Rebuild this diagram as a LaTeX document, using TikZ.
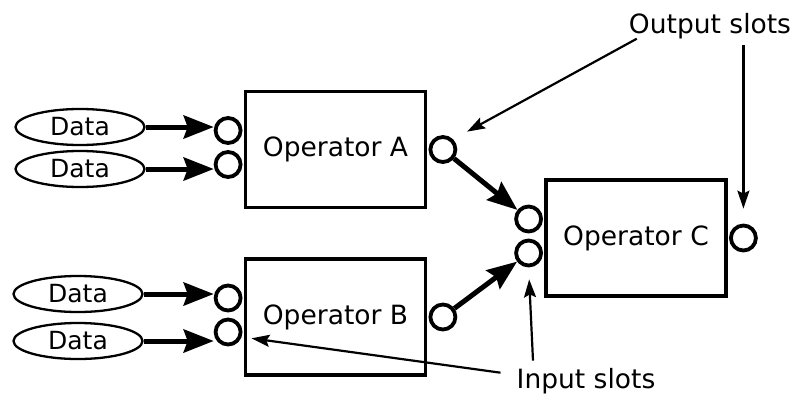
\documentclass[tikz,border=0pt]{standalone}
\usepackage{fontspec}
\setmainfont{DejaVu Sans}
\usepackage{tikz}
\usetikzlibrary{arrows.meta}
\usetikzlibrary{shapes.geometric}
\usetikzlibrary{positioning}

\begin{document}
\begin{tikzpicture}[x=1pt, y=-1pt, font=\fontsize{26.5}{30}\selectfont]
\tikzstyle{op}=[rectangle, draw, line width=3.8pt, minimum width=180pt,
                 minimum height=116pt, inner sep=0pt];
\tikzstyle{slot}=[circle, draw, line width=3.8pt, fill=white,
                   minimum size=25pt, inner sep=0pt];
\tikzstyle{data}=[ellipse, draw, line width=2.3pt, minimum width=129pt,
                   minimum height=36pt, inner sep=0pt, font=\fontsize{25}{30}\selectfont];
\tikzstyle{flow}=[line width=5pt, -{Stealth[length=30pt, width=23pt, inset=4pt]}];
\tikzstyle{hint}=[line width=2.2pt, -{Stealth[length=18pt, width=12pt, inset=3pt]}];
\useasboundingbox (0,0) rectangle (794,394);

\node[op] (opA) at (335.5,149.5) {Operator A};
\node[op] (opB) at (335.5,317) {Operator B};
\node[op] (opC) at (636,238) {Operator C};
\foreach \o in {A,B,C}
{\node[slot, xshift=-15.5pt, yshift=19pt] (in\o1) at (op\o.west) {};
 \node[slot, xshift=-15.5pt, yshift=-15pt] (in\o2) at (op\o.west) {};
 \node[slot, xshift=15.5pt] (out\o) at (op\o.east) {};}

\foreach \n/\x/\y in {A1/80/127, A2/80/169, B1/78/294, B2/78/341}
{\node[data] (d\n) at (\x,\y) {Data};
 \draw[flow] (d\n.east) -- (d\n.east -| in\n.west);}

\draw[flow] (outA) -- (inC1);
\draw[flow] (outB) -- (inC2);

\node[anchor=base, inner sep=0pt] (outlab) at (710,33) {Output slots};
\node[anchor=base, inner sep=0pt] (inlab) at (586,388) {Input slots};
\draw[hint, shorten >=16pt] ([xshift=8pt]outlab.south west) -- (outA.north east);
\draw[hint, shorten <=6pt, shorten >=15pt] (outlab.south -| outC) -- (outC.north);
\draw[hint, shorten >=10pt] ([xshift=-16pt, yshift=8pt]inlab.west) -- (inB2.-20);
\draw[hint, shorten >=12pt] ([xshift=-53pt, yshift=7pt]inlab.north) -- (inC2.south);
\end{tikzpicture}
\end{document}
